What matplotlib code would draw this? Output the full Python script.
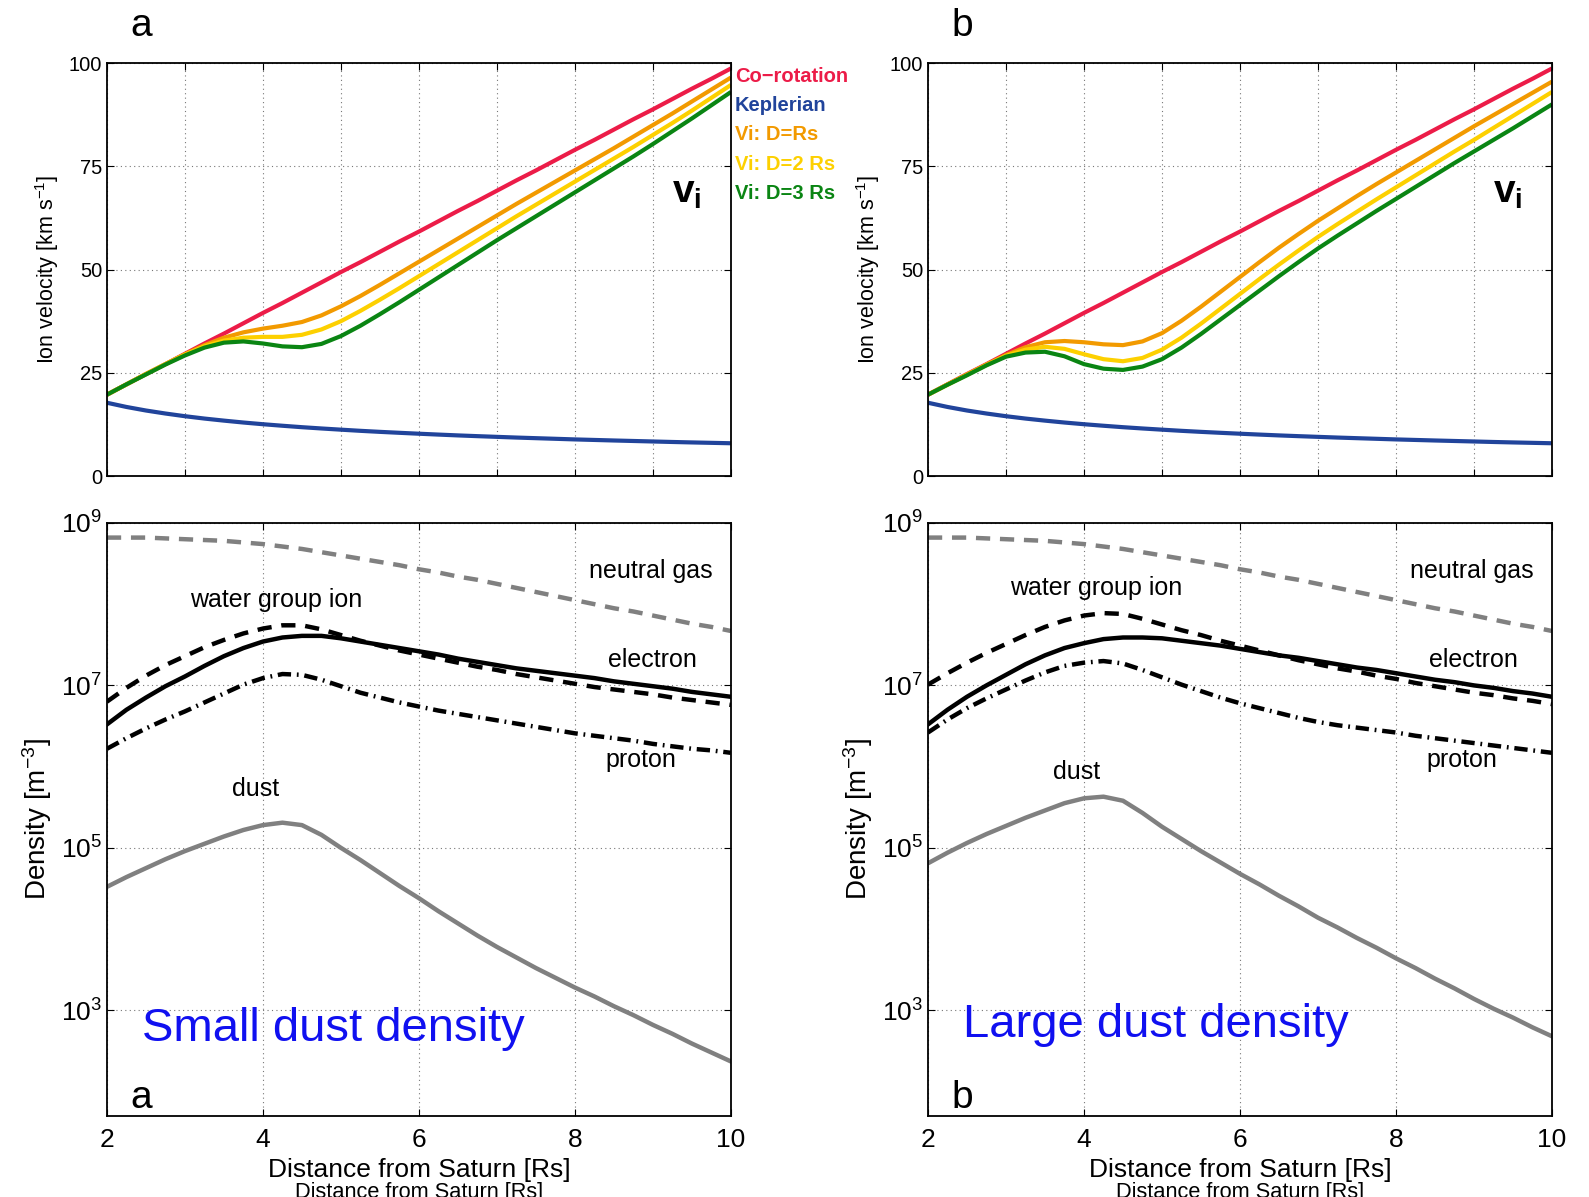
import matplotlib

matplotlib.use("Agg")
import matplotlib.pyplot as plt
import numpy as np

plt.rcParams["font.family"] = ["Liberation Sans", "DejaVu Sans"]
plt.rcParams["mathtext.fontset"] = "custom"
plt.rcParams["mathtext.rm"] = "Liberation Sans"
plt.rcParams["mathtext.it"] = "Liberation Sans:italic"
plt.rcParams["mathtext.bf"] = "Liberation Sans:bold"

# radial distance [Rs], 0.25 steps from 2 to 10
R = [2.0, 2.25, 2.5, 2.75, 3.0, 3.25, 3.5, 3.75, 4.0, 4.25, 4.5, 4.75, 5.0, 5.25, 5.5, 5.75,
     6.0, 6.25, 6.5, 6.75, 7.0, 7.25, 7.5, 7.75, 8.0, 8.25, 8.5, 8.75, 9.0, 9.25, 9.5, 9.75, 10.0]

# velocities [km/s]
v_corot = [19.7, 22.2, 24.7, 27.1, 29.6, 32.1, 34.5, 37.0, 39.5, 41.9, 44.4, 46.9, 49.4,
           51.8, 54.3, 56.8, 59.2, 61.7, 64.2, 66.6, 69.1, 71.6, 74.0, 76.5, 79.0, 81.4,
           83.9, 86.4, 88.8, 91.3, 93.8, 96.2, 98.7]
v_kepler = [17.75, 16.73, 15.87, 15.14, 14.49, 13.92, 13.42, 12.96, 12.55, 12.18, 11.83,
            11.52, 11.23, 10.95, 10.70, 10.47, 10.25, 10.04, 9.84, 9.66, 9.49, 9.32, 9.17,
            9.02, 8.87, 8.74, 8.61, 8.49, 8.37, 8.25, 8.14, 8.04, 7.94]

vi_a_d1 = [19.7, 22.2, 24.7, 27.1, 29.5, 31.7, 33.5, 34.8, 35.7, 36.4, 37.3, 38.9, 41.1,
           43.6, 46.3, 49.1, 51.9, 54.7, 57.5, 60.3, 63.1, 65.9, 68.6, 71.3, 74.0, 76.7,
           79.4, 82.2, 85.0, 87.8, 90.7, 93.6, 96.5]
vi_a_d2 = [19.7, 22.2, 24.7, 27.1, 29.4, 31.4, 32.8, 33.5, 33.7, 33.7, 34.2, 35.5, 37.5,
           40.0, 42.7, 45.5, 48.4, 51.3, 54.2, 57.1, 60.0, 62.9, 65.7, 68.5, 71.3, 74.1,
           76.9, 79.7, 82.6, 85.5, 88.5, 91.6, 94.7]
vi_a_d3 = [19.7, 22.2, 24.6, 27.0, 29.2, 31.1, 32.3, 32.6, 32.1, 31.4, 31.2, 32.0, 33.9,
           36.4, 39.2, 42.1, 45.1, 48.1, 51.1, 54.1, 57.1, 60.0, 62.9, 65.8, 68.7, 71.6,
           74.5, 77.4, 80.4, 83.5, 86.6, 89.8, 93.0]

vi_b_d1 = [19.7, 22.2, 24.6, 27.0, 29.3, 31.2, 32.4, 32.7, 32.4, 31.9, 31.7, 32.6, 34.6,
           37.6, 41.0, 44.6, 48.2, 51.8, 55.3, 58.6, 61.8, 64.8, 67.8, 70.7, 73.5, 76.3,
           79.1, 81.9, 84.7, 87.4, 90.1, 92.8, 95.5]
vi_b_d2 = [19.7, 22.1, 24.5, 26.9, 29.1, 30.6, 31.3, 30.8, 29.5, 28.3, 27.8, 28.6, 30.6,
           33.5, 36.9, 40.5, 44.1, 47.7, 51.2, 54.6, 57.9, 61.0, 64.0, 67.0, 69.9, 72.8,
           75.7, 78.6, 81.4, 84.3, 87.2, 90.1, 93.0]
vi_b_d3 = [19.7, 22.1, 24.4, 26.8, 28.9, 29.9, 30.1, 29.0, 27.1, 26.0, 25.7, 26.5, 28.3,
           31.1, 34.4, 37.9, 41.4, 44.9, 48.4, 51.8, 55.1, 58.2, 61.2, 64.2, 67.1, 70.0,
           72.9, 75.8, 78.6, 81.4, 84.2, 87.1, 90.0]

# log10 densities [m^-3]
log_neutral = [8.82, 8.82, 8.82, 8.81, 8.80, 8.79, 8.78, 8.76, 8.74, 8.71, 8.68, 8.64, 8.60,
               8.56, 8.52, 8.48, 8.43, 8.39, 8.34, 8.30, 8.25, 8.20, 8.15, 8.10, 8.05, 8.00,
               7.95, 7.91, 7.86, 7.81, 7.76, 7.72, 7.67]

log_ion_a = [6.80, 6.97, 7.12, 7.25, 7.36, 7.47, 7.56, 7.64, 7.70, 7.74, 7.74, 7.69, 7.62,
             7.55, 7.49, 7.43, 7.38, 7.33, 7.28, 7.23, 7.19, 7.14, 7.10, 7.06, 7.02, 6.98,
             6.95, 6.92, 6.89, 6.85, 6.82, 6.79, 6.76]
log_elec_a = [6.52, 6.70, 6.85, 6.99, 7.11, 7.24, 7.36, 7.46, 7.54, 7.59, 7.61, 7.61, 7.58,
              7.54, 7.50, 7.46, 7.42, 7.38, 7.33, 7.29, 7.25, 7.21, 7.18, 7.15, 7.12, 7.09,
              7.05, 7.02, 6.99, 6.96, 6.92, 6.89, 6.86]
log_prot_a = [6.22, 6.35, 6.47, 6.58, 6.68, 6.79, 6.90, 7.01, 7.09, 7.14, 7.13, 7.07, 6.99,
              6.91, 6.85, 6.79, 6.74, 6.69, 6.65, 6.61, 6.57, 6.53, 6.49, 6.45, 6.41, 6.38,
              6.35, 6.32, 6.28, 6.25, 6.22, 6.20, 6.17]
log_dust_a = [4.52, 4.64, 4.75, 4.86, 4.96, 5.05, 5.14, 5.22, 5.28, 5.31, 5.28, 5.16, 5.00,
              4.85, 4.69, 4.53, 4.38, 4.22, 4.07, 3.92, 3.78, 3.65, 3.52, 3.40, 3.28, 3.17,
              3.05, 2.94, 2.82, 2.71, 2.59, 2.48, 2.37]

log_ion_b = [7.01, 7.15, 7.28, 7.40, 7.51, 7.62, 7.72, 7.80, 7.86, 7.89, 7.88, 7.82, 7.75,
             7.68, 7.62, 7.55, 7.49, 7.43, 7.37, 7.31, 7.26, 7.21, 7.17, 7.12, 7.08, 7.03,
             6.99, 6.95, 6.91, 6.88, 6.84, 6.81, 6.77]
log_elec_b = [6.52, 6.70, 6.86, 7.00, 7.13, 7.26, 7.37, 7.46, 7.52, 7.57, 7.59, 7.59, 7.58,
              7.55, 7.52, 7.49, 7.45, 7.41, 7.37, 7.34, 7.30, 7.26, 7.22, 7.19, 7.15, 7.11,
              7.07, 7.04, 7.00, 6.97, 6.93, 6.90, 6.86]
log_prot_b = [6.42, 6.58, 6.72, 6.84, 6.95, 7.06, 7.16, 7.24, 7.28, 7.30, 7.27, 7.19, 7.10,
              7.01, 6.93, 6.85, 6.78, 6.72, 6.66, 6.60, 6.55, 6.51, 6.48, 6.45, 6.42, 6.38,
              6.35, 6.32, 6.29, 6.26, 6.23, 6.20, 6.17]
log_dust_b = [4.81, 4.94, 5.06, 5.17, 5.27, 5.37, 5.46, 5.55, 5.61, 5.63, 5.58, 5.43, 5.26,
              5.11, 4.96, 4.82, 4.68, 4.55, 4.41, 4.28, 4.14, 4.02, 3.89, 3.77, 3.64, 3.52,
              3.39, 3.27, 3.14, 3.02, 2.91, 2.79, 2.68]

VEL_LABELS = ["Co\u2212rotation", "Keplerian", "Vi: D=Rs", "Vi: D=2 Rs", "Vi: D=3 Rs"]
VEL_COLORS = ["#ec1c48", "#21449b", "#f29a00", "#fdd000", "#0a8513"]

GRID = dict(color="#777777", linestyle=(0, (1, 3)), linewidth=0.8)


def style_axes(ax, size):
    ax.tick_params(direction="in", top=True, right=True, length=5, width=0.8, labelsize=size)
    for sp in ax.spines.values():
        sp.set_linewidth(1.3)


def plot_velocity(ax, curves, letter, legend=False):
    vel = [v_corot, v_kepler] + curves
    for y, c in zip(vel, VEL_COLORS):
        ax.plot(R, y, color=c, lw=3.0, solid_capstyle="butt", solid_joinstyle="round")
    ax.set_xlim(2, 10)
    ax.set_ylim(0, 100)
    ax.set_xticks(np.arange(2, 11, 1))
    ax.set_xticklabels([])
    ax.set_yticks([0, 25, 50, 75, 100])
    ax.grid(True, **GRID)
    style_axes(ax, 14.5)
    ax.set_ylabel("Ion velocity [km s$^{-1}$]", fontsize=15.5)
    ax.yaxis.set_label_coords(-0.074, 0.5)
    ax.text(0.93, 0.685, r"$\mathbf{v_i}$", transform=ax.transAxes, fontsize=28,
            ha="center", va="center")
    ax.text(0.055, 1.089, letter, transform=ax.transAxes, fontsize=28, ha="center", va="center")
    if legend:
        for i, (lab, c) in enumerate(zip(VEL_LABELS, VEL_COLORS)):
            ax.text(1.006, 0.967 - i * 0.0705, lab, transform=ax.transAxes, color=c,
                    fontsize=14.5, fontweight="bold", ha="left", va="center")


def plot_density(ax, ion, elec, prot, dust, letter, title, pos):
    r = np.array(R)
    ax.plot(r, 10 ** np.array(log_neutral), color="#808080", lw=3.2, dashes=(3.2, 2.2))
    ax.plot(r, 10 ** np.array(ion), color="black", lw=3.2, dashes=(3.2, 2.2))
    ax.plot(r, 10 ** np.array(elec), color="black", lw=3.2, solid_joinstyle="round")
    ax.plot(r, 10 ** np.array(prot), color="black", lw=3.2, dashes=(3.0, 1.3, 0.4, 1.3))
    ax.plot(r, 10 ** np.array(dust), color="#808080", lw=3.2, solid_joinstyle="round")
    ax.set_yscale("log")
    ax.set_xlim(2, 10)
    ax.set_ylim(50, 1e9)
    ax.set_xticks([2, 4, 6, 8, 10])
    ax.set_yticks([1e3, 1e5, 1e7, 1e9])
    ax.set_yticklabels([r"$\mathregular{10^{%d}}$" % e for e in (3, 5, 7, 9)])
    ax.yaxis.set_minor_locator(matplotlib.ticker.NullLocator())
    ax.grid(True, **GRID)
    style_axes(ax, 19)
    ax.tick_params(axis="x", pad=9)
    ax.set_xlabel("Distance from Saturn [Rs]", fontsize=19)
    ax.xaxis.set_label_coords(0.5, -0.071)
    ax.set_ylabel("Density [m$^{-3}$]", fontsize=20)
    ax.yaxis.set_label_coords(-0.085, 0.5)

    fs = 18
    ax.text(8.97, 10 ** 8.41, "neutral gas", fontsize=fs, ha="center", va="center")
    ax.text(pos["ion"][0], 10 ** pos["ion"][1], "water group ion", fontsize=fs,
            ha="center", va="center")
    ax.text(8.99, 10 ** 7.31, "electron", fontsize=fs, ha="center", va="center")
    ax.text(8.85, 10 ** 6.08, "proton", fontsize=fs, ha="center", va="center")
    ax.text(pos["dust"][0], 10 ** pos["dust"][1], "dust", fontsize=fs, ha="center", va="center")
    ax.text(pos["title"][0], 10 ** pos["title"][1], title, fontsize=34, color="#1010f0",
            ha="left", va="center")
    ax.text(0.055, 0.031, letter, transform=ax.transAxes, fontsize=28, ha="center",
            va="center")


fig = plt.figure(figsize=(15.89, 11.97), dpi=100)

left_x, right_x, w = 0.0673, 0.584, 0.3927
ax_va = fig.add_axes([left_x, 0.6023, w, 0.345])
ax_vb = fig.add_axes([right_x, 0.6023, w, 0.345])
ax_na = fig.add_axes([left_x, 0.0677, w, 0.4954])
ax_nb = fig.add_axes([right_x, 0.0677, w, 0.4954])

plot_velocity(ax_va, [vi_a_d1, vi_a_d2, vi_a_d3], "a", legend=True)
plot_velocity(ax_vb, [vi_b_d1, vi_b_d2, vi_b_d3], "b")

plot_density(ax_na, log_ion_a, log_elec_a, log_prot_a, log_dust_a, "a", "Small dust density",
             {"ion": (4.17, 8.05), "dust": (3.91, 5.72), "title": (2.45, 2.77)})
plot_density(ax_nb, log_ion_b, log_elec_b, log_prot_b, log_dust_b, "b", "Large dust density",
             {"ion": (4.16, 8.20), "dust": (3.90, 5.93), "title": (2.45, 2.82)})

# older axis label left underneath, cut by the figure edge
for ax in (ax_na, ax_nb):
    pos = ax.get_position()
    fig.text(pos.x0 + pos.width / 2, 0.0125, "Distance from Saturn [Rs]", fontsize=15.7,
             ha="center", va="top")

fig.savefig("out.png", dpi=100)
